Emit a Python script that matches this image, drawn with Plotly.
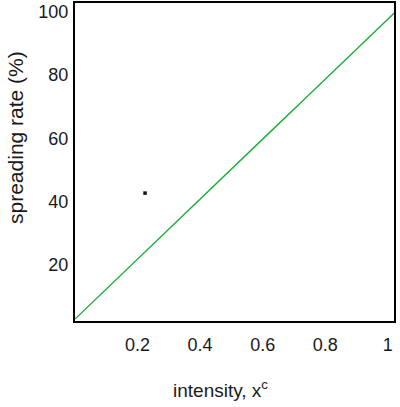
import plotly.graph_objects as go

# data
intensity = [0.0, 0.05, 0.165, 0.275, 0.39, 0.505, 0.62, 0.74, 0.855, 0.97, 1.02]
spreading_rate = [3.0, 7.7, 18.6, 29.0, 39.9, 50.7, 61.6, 72.9, 83.8, 94.7, 99.4]
dot_x = [0.224]
dot_y = [42.7]
x_ticks = [0.2, 0.4, 0.6, 0.8, 1]
x_tick_text = ["0.2", "0.4", "0.6", "0.8", "1"]
y_ticks = [20, 40, 60, 80, 100]
y_tick_text = ["20", "40", "60", "80", "100"]

font = "Liberation Sans, Arial, sans-serif"

fig = go.Figure()
fig.add_trace(go.Scatter(x=intensity, y=spreading_rate, mode="lines",
                         line=dict(color="#1fae3a", width=1.4), showlegend=False))
fig.add_trace(go.Scatter(x=dot_x, y=dot_y, mode="markers",
                         marker=dict(color="#111111", size=3.5, symbol="square"), showlegend=False))

fig.update_layout(
    width=400, height=407,
    margin=dict(l=75, r=6, t=3, b=86, autoexpand=False),
    paper_bgcolor="white", plot_bgcolor="white",
    font=dict(family=font, size=18, color="#1a1a1a"),
    xaxis=dict(range=[0, 1.02], tickvals=x_ticks, ticktext=x_tick_text,
               showgrid=False, zeroline=False, showline=True, linecolor="black",
               linewidth=2, mirror=True, ticks="", ticklabelstandoff=6,
               automargin=False, ticklabeloverflow="allow",
               tickfont=dict(size=18)),
    yaxis=dict(range=[2.4, 102.6], tickvals=y_ticks, ticktext=y_tick_text,
               showgrid=False, zeroline=False, showline=True, linecolor="black",
               linewidth=2, mirror=True, ticks="", ticklabelstandoff=1,
               automargin=False, ticklabeloverflow="allow",
               tickfont=dict(size=18)),
    annotations=[
        dict(text="intensity, x<sup>c</sup>", xref="paper", yref="paper",
             x=(220 - 75) / 319, y=-(389 - 321) / 318, xanchor="center", yanchor="middle",
             showarrow=False, font=dict(size=19, color="#1a1a1a")),
        dict(text="spreading rate (%)", xref="paper", yref="paper",
             x=-(75 - 15) / 319, y=(321 - 138) / 318, xanchor="center", yanchor="middle",
             textangle=-90, showarrow=False, font=dict(size=21, color="#1a1a1a")),
    ],
)

fig.write_html("out.html", config={"displayModeBar": False},
               post_script="document.body.style.margin='0';document.body.style.overflow='hidden';")
